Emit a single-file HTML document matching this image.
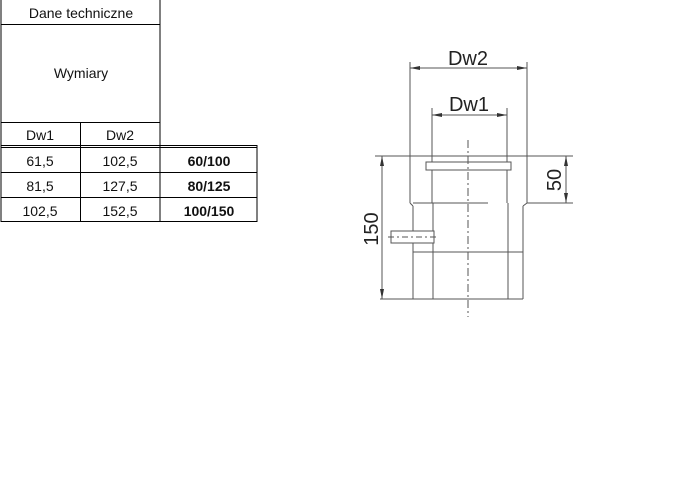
<!DOCTYPE html>
<html><head><style>
body{margin:0;background:#fff;width:700px;height:500px;overflow:hidden;font-family:"Liberation Sans",sans-serif}
svg{position:absolute;left:0;top:0}
</style></head><body>
<svg width="700" height="500" viewBox="0 0 700 500">
<g stroke="#000" stroke-width="1" fill="none">
<line x1="1" y1="0" x2="1" y2="222"/>
<line x1="160" y1="0" x2="160" y2="222"/>
<line x1="1" y1="24.5" x2="160" y2="24.5"/>
<line x1="1" y1="122.5" x2="160" y2="122.5"/>
<line x1="80.5" y1="122" x2="80.5" y2="222"/>
<line x1="1" y1="145.5" x2="257" y2="145.5"/>
<line x1="1" y1="147.5" x2="257" y2="147.5"/>
<line x1="1" y1="172.5" x2="257" y2="172.5"/>
<line x1="1" y1="197.5" x2="257" y2="197.5"/>
<line x1="1" y1="221.5" x2="257" y2="221.5"/>
<line x1="257" y1="145" x2="257" y2="222"/>
</g>
<g font-size="14" text-anchor="middle" fill="#111">
<text x="81" y="18">Dane techniczne</text>
<text x="81" y="78">Wymiary</text>
<text x="40" y="140">Dw1</text>
<text x="120" y="140">Dw2</text>
<text x="40" y="166">61,5</text><text x="120" y="166">102,5</text><text x="209" y="166" font-weight="bold">60/100</text>
<text x="40" y="191">81,5</text><text x="120" y="191">127,5</text><text x="209" y="191" font-weight="bold">80/125</text>
<text x="40" y="216">102,5</text><text x="120" y="216">152,5</text><text x="209" y="216" font-weight="bold">100/150</text>
</g>
<g stroke="#555" stroke-width="1" fill="none">
<line x1="410" y1="62" x2="410" y2="203"/>
<line x1="527" y1="62" x2="527" y2="203"/>
<line x1="410" y1="68" x2="527" y2="68"/>
<line x1="432" y1="108" x2="432" y2="203"/>
<line x1="507" y1="108" x2="507" y2="203"/>
<line x1="432" y1="115" x2="507" y2="115"/>
<line x1="375" y1="156" x2="573" y2="156"/>
<rect x="426" y="162" width="85" height="8" fill="#fff"/>
<line x1="410" y1="203" x2="413" y2="206"/>
<line x1="527" y1="203" x2="523" y2="206"/>
<line x1="413" y1="206" x2="413" y2="299"/>
<line x1="523" y1="206" x2="523" y2="299"/>
<line x1="433" y1="203" x2="433" y2="299"/>
<line x1="508" y1="203" x2="508" y2="299"/>
<line x1="413" y1="203" x2="488" y2="203"/>
<line x1="527" y1="203" x2="573" y2="203"/>
<line x1="413" y1="252" x2="523" y2="252"/>
<line x1="380" y1="299" x2="523" y2="299"/>
<line x1="468" y1="140" x2="468" y2="317" stroke-dasharray="8,3,2,3"/>
<line x1="382" y1="156" x2="382" y2="299"/>
<line x1="566" y1="156" x2="566" y2="203"/>
<rect x="391" y="231" width="43" height="12" fill="#fff"/>
<line x1="388" y1="237" x2="438" y2="237" stroke-dasharray="6,3,2,3"/>
</g>
<g fill="#333">
<polygon points="410,68 420,66 420,70"/><polygon points="527,68 517,66 517,70"/>
<polygon points="432,115 442,113 442,117"/><polygon points="507,115 497,113 497,117"/>
<polygon points="382,156 380,166 384,166"/><polygon points="382,299 380,289 384,289"/>
<polygon points="566,156 564,166 568,166"/><polygon points="566,203 564,193 568,193"/>
</g>
<g font-size="20" fill="#222" text-anchor="middle">
<text x="468" y="65">Dw2</text>
<text x="469" y="111">Dw1</text>
<text transform="translate(378,229) rotate(-90)">150</text>
<text transform="translate(561,180) rotate(-90)">50</text>
</g>
</svg>
</body></html>
